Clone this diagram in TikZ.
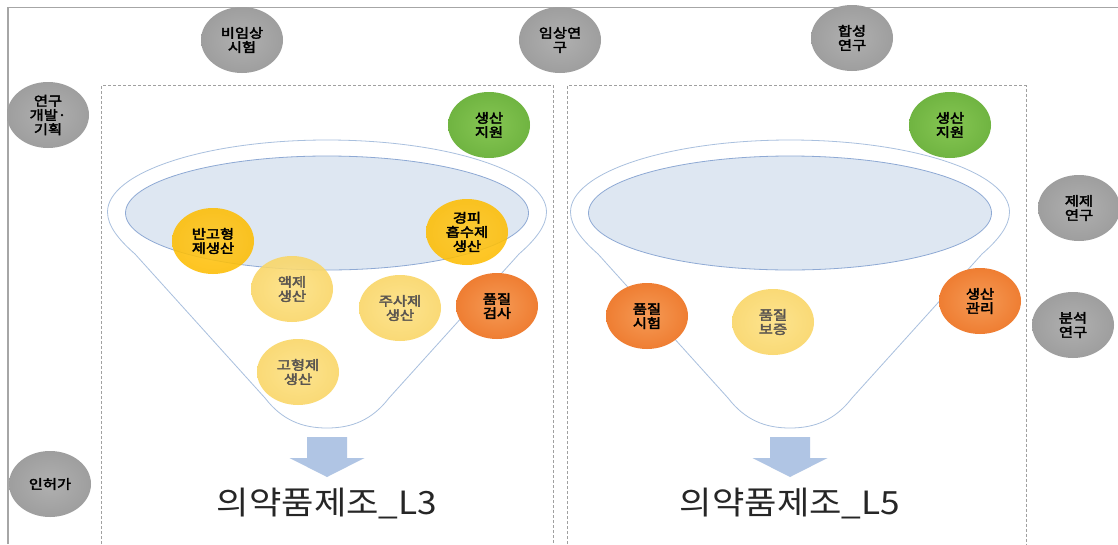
\documentclass[tikz,border=0pt]{standalone}
\usepackage{fontspec}
\setmainfont{Noto Sans CJK KR}
\newfontfamily\krbold{Noto Sans CJK KR}[FakeBold=3,FakeStretch=1.18]
\newfontfamily\krtitle{Noto Sans CJK KR}[FakeStretch=1.1]
\usetikzlibrary{shapes.geometric}
\definecolor{framec}{HTML}{A6A6A6}
\definecolor{dashc}{HTML}{A0A0A0}
\definecolor{funnelc}{HTML}{A9C0DE}
\definecolor{innerfill}{HTML}{DEE7F2}
\definecolor{innerdraw}{HTML}{8EA9D4}
\definecolor{arrowc}{HTML}{B0C5E4}
\definecolor{titlec}{HTML}{262626}
\definecolor{gin}{HTML}{B0B0B0}\definecolor{gmid}{HTML}{9C9C9C}\definecolor{gout}{HTML}{808080}
\definecolor{grin}{HTML}{86C653}\definecolor{grmid}{HTML}{6DB23F}\definecolor{grout}{HTML}{4E952A}
\definecolor{goin}{HTML}{FFC61A}\definecolor{gomid}{HTML}{FDBC00}\definecolor{goout}{HTML}{F2AC00}
\definecolor{lyin}{HTML}{FDE080}\definecolor{lymid}{HTML}{F9D460}\definecolor{lyout}{HTML}{F2C642}
\definecolor{orin}{HTML}{F59A55}\definecolor{ormid}{HTML}{EE7A2E}\definecolor{orout}{HTML}{DD5E10}
\definecolor{lytext}{HTML}{5A5550}
\pgfdeclareradialshading{grayball}{\pgfpoint{0bp}{0bp}}{color(0bp)=(gin); color(28bp)=(gmid); color(50bp)=(gout)}
\pgfdeclareradialshading{greenball}{\pgfpoint{0bp}{0bp}}{color(0bp)=(grin); color(28bp)=(grmid); color(50bp)=(grout)}
\pgfdeclareradialshading{goldball}{\pgfpoint{0bp}{0bp}}{color(0bp)=(goin); color(28bp)=(gomid); color(50bp)=(goout)}
\pgfdeclareradialshading{lyball}{\pgfpoint{0bp}{0bp}}{color(0bp)=(lyin); color(28bp)=(lymid); color(50bp)=(lyout)}
\pgfdeclareradialshading{orball}{\pgfpoint{0bp}{0bp}}{color(0bp)=(orin); color(28bp)=(ormid); color(50bp)=(orout)}
\tikzset{
  bub/.style={ellipse, minimum width=82pt, minimum height=66pt, inner sep=0pt,
    align=center, font=\krbold\fontsize{13}{14.2}\selectfont},
  graybub/.style={bub, shading=grayball, text=black},
  greenbub/.style={bub, shading=greenball, text=black},
  goldbub/.style={bub, shading=goldball, text=black, fill opacity=0.88, text opacity=1},
  lightbub/.style={bub, shading=lyball, text=lytext, fill opacity=0.88, text opacity=1},
  orangebub/.style={bub, shading=orball, text=black},
  funnelline/.style={draw=funnelc, line width=0.8pt, fill=white},
  innerell/.style={draw=innerdraw, line width=0.8pt, fill=innerfill},
  dashbox/.style={draw=dashc, line width=0.7pt, dash pattern=on 3pt off 2pt},
  titletext/.style={font=\krtitle\fontsize{32}{38}\selectfont, text=titlec, inner sep=0pt}
}
\begin{document}
\begin{tikzpicture}[x=1pt,y=-1pt]
\useasboundingbox (0,0) rectangle (1118,544);
\fill[white] (0,0) rectangle (1118,544);
% frame
\draw[framec, line width=1.2pt] (8,544) -- (8,7.5) -- (1118,7.5);
% dashed boxes
\draw[dashbox] (101.5,544) -- (101.5,85.5) -- (553.5,85.5) -- (553.5,544);
\draw[dashbox] (567.5,544) -- (567.5,85.5) -- (1026,85.5) -- (1026,544);
% funnels
\foreach \cx in {327,790}{
  \begin{scope}[xshift=\cx pt]
    \draw[funnelline] (-219.5,212) arc[start angle=180, end angle=0, x radius=219.5pt, y radius=72pt]
      .. controls (219.5,226) and (208,240) .. (192,254) -- (62,398)
      .. controls (45,420) and (25,428) .. (0,428)
      .. controls (-25,428) and (-45,420) .. (-62,398) -- (-192,254)
      .. controls (-208,240) and (-219.5,226) .. cycle;
    \draw[innerell] (0,213) ellipse [x radius=201.5pt, y radius=57pt];
    \fill[arrowc] (-20,437) -- (20,437) -- (20,458) -- (37.5,458) -- (0,477) -- (-37.5,458) -- (-20,458) -- cycle;
  \end{scope}
}
% titles
\node[titletext] (t3) at (327,503) {의약품제조\_L3};
\node[titletext] (t5) at (790,503) {의약품제조\_L5};
% outer gray bubbles
\node[graybub] (bi) at (242,40) {비임상\\시험};
\node[graybub] (im) at (560,40) {임상연\\구};
\node[graybub] (hs) at (852,38) {합성\\연구};
\node[graybub] (yg) at (48,115) {연구\\개발·\\기획};
\node[graybub] (jj) at (1079,208) {제제\\연구};
\node[graybub] (bs) at (1073,325) {분석\\연구};
\node[graybub] (ih) at (50,484) {인허가};
% box 1 bubbles
\node[greenbub] (sj1) at (489,125) {생산\\지원};
\node[goldbub] (bg) at (213,241) {반고형\\제생산};
\node[goldbub] (gp) at (467,232) {경피\\흡수제\\생산};
\node[lightbub] (ak) at (292,289) {액제\\생산};
\node[lightbub] (js) at (400,308) {주사제\\생산};
\node[orangebub] (pg) at (497,306) {품질\\검사};
\node[lightbub] (gh) at (298,372) {고형제\\생산};
% box 2 bubbles
\node[greenbub] (sj2) at (950,125) {생산\\지원};
\node[orangebub] (ps) at (647,316) {품질\\시험};
\node[lightbub] (pb) at (773,322) {품질\\보증};
\node[orangebub] (sg) at (980,301) {생산\\관리};
\end{tikzpicture}
\end{document}
